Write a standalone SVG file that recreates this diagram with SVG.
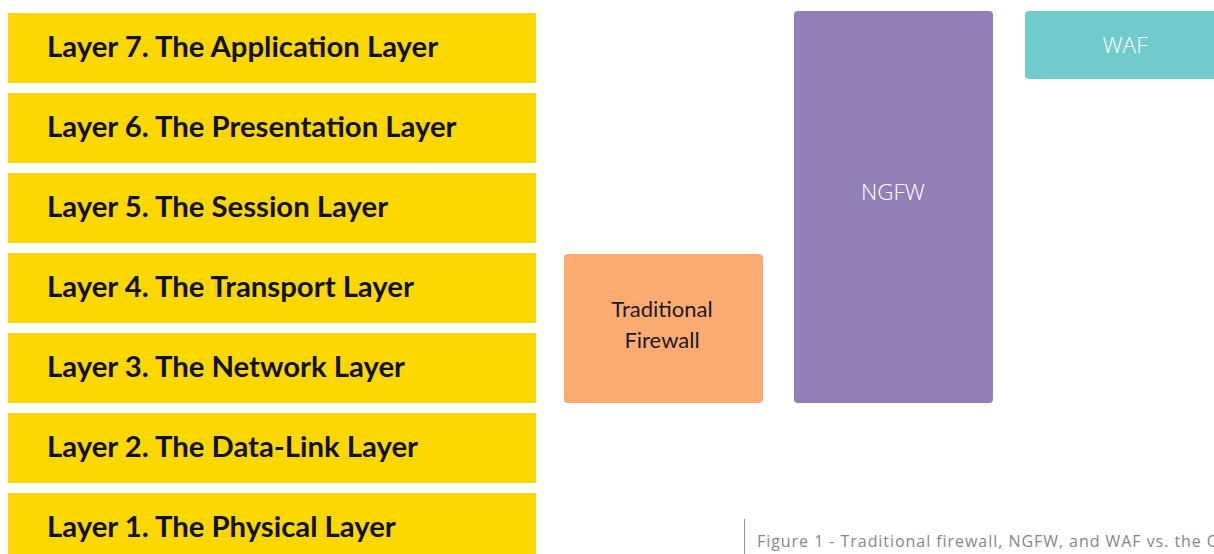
<svg xmlns="http://www.w3.org/2000/svg" width="1214" height="554" viewBox="0 0 1214 554">
<style>
.layer{fill:#FDD700}
.lt{font-family:Lato,"Open Sans",sans-serif;font-weight:700;font-size:29.3px;fill:#111}
.fw{font-family:Lato,"Open Sans",sans-serif;font-size:22px;fill:#1a1a1a;text-anchor:middle}
.wt{font-family:"Open Sans","Noto Sans",sans-serif;font-weight:300;font-size:22.5px;fill:#ffffff;text-anchor:middle}
.cap{font-family:"Open Sans","Noto Sans",sans-serif;font-size:16px;letter-spacing:0.95px;fill:#8C8682}
</style>
<rect width="1214" height="554" fill="#ffffff"/>
<g id="layer7"><rect class="layer" x="8" y="13" width="528" height="70"/><text class="lt" x="47" y="57">Layer 7. The Application Layer</text></g>
<g id="layer6"><rect class="layer" x="8" y="93" width="528" height="70"/><text class="lt" x="47" y="137">Layer 6. The Presentation Layer</text></g>
<g id="layer5"><rect class="layer" x="8" y="173" width="528" height="70"/><text class="lt" x="47" y="217">Layer 5. The Session Layer</text></g>
<g id="layer4"><rect class="layer" x="8" y="253" width="528" height="70"/><text class="lt" x="47" y="297">Layer 4. The Transport Layer</text></g>
<g id="layer3"><rect class="layer" x="8" y="333" width="528" height="70"/><text class="lt" x="47" y="377">Layer 3. The Network Layer</text></g>
<g id="layer2"><rect class="layer" x="8" y="413" width="528" height="70"/><text class="lt" x="47" y="457">Layer 2. The Data-Link Layer</text></g>
<g id="layer1"><rect class="layer" x="8" y="493" width="528" height="70"/><text class="lt" x="47" y="537">Layer 1. The Physical Layer</text></g>
<g id="traditional-firewall"><rect x="564" y="254" width="199" height="149" rx="4" fill="#FCAC72"/><text class="fw" x="662" y="317">Traditional</text><text class="fw" x="662" y="348">Firewall</text></g>
<g id="ngfw"><rect x="794" y="11" width="199" height="392" rx="4" fill="#937FB8"/><text class="wt" x="893" y="200">NGFW</text></g>
<g id="waf"><rect x="1025" y="11" width="200" height="68" rx="4" fill="#72CBCB"/><text class="wt" x="1125" y="53">WAF</text></g>
<g id="connectors"></g>
<g id="caption"><line x1="744.5" y1="519" x2="744.5" y2="554" stroke="#9a9590" stroke-width="1"/><text class="cap" x="757" y="547">Figure 1 - Traditional firewall, NGFW, and WAF vs. the OSI Model</text></g>
</svg>
